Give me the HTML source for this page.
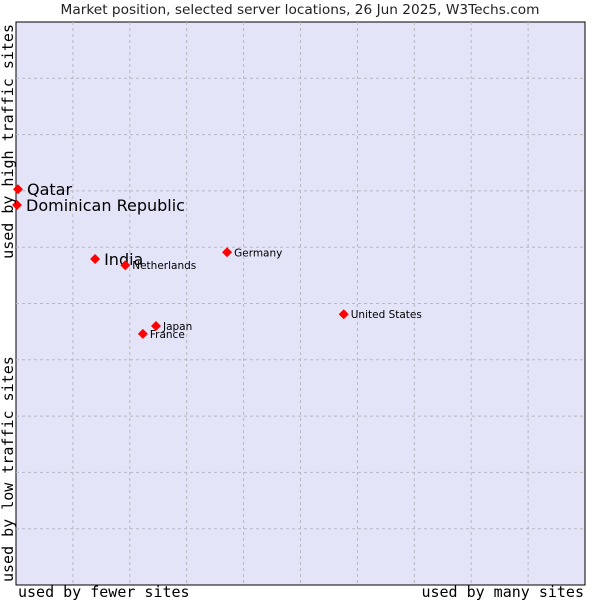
<!DOCTYPE html>
<html><head><meta charset="utf-8"><style>
body{margin:0;background:#fff;}
svg{display:block;}
</style></head><body>
<svg id="chart" width="600" height="600" xmlns="http://www.w3.org/2000/svg">
<text x="300" y="14" text-anchor="middle" font-family="DejaVu Sans, sans-serif" font-size="13.7" fill="#222">Market position, selected server locations, 26 Jun 2025, W3Techs.com</text>
<rect x="16" y="22" width="569" height="563" fill="#e3e4f8" stroke="#000" stroke-width="1"/>
<g id="grid"></g>
<g id="points"></g>
<text x="18" y="597" font-family="DejaVu Sans Mono, monospace" font-size="15" fill="#000">used by fewer sites</text>
<text x="584" y="597" text-anchor="end" font-family="DejaVu Sans Mono, monospace" font-size="15" fill="#000">used by many sites</text>
<text transform="translate(13,24) rotate(-90)" text-anchor="end" font-family="DejaVu Sans Mono, monospace" font-size="15" fill="#000">used by high traffic sites</text>
<text transform="translate(13,582) rotate(-90)" font-family="DejaVu Sans Mono, monospace" font-size="15" fill="#000">used by low traffic sites</text>
</svg>
<script>
const countries = ["Qatar","Dominican Republic","India","Netherlands","Germany","United States","Japan","France"];
const xValues = [0.35,0.18,13.9,19.2,37.1,57.6,24.6,22.3];
const yValues = [70.3,67.5,57.9,56.8,59.1,48.1,46.0,44.6];
const highlighted = [true,true,true,false,false,false,false,false];

const NS="http://www.w3.org/2000/svg";
const X0=16,X1=585,Y0=22,Y1=585;
const xs=v=>X0+v/100*(X1-X0);
const ys=v=>Y1-v/100*(Y1-Y0);
const grid=document.getElementById('grid');
for(let i=1;i<10;i++){
  const gx=xs(i*10), gy=ys(i*10);
  const l1=document.createElementNS(NS,'line');
  
  
  l1.setAttribute('x1',gx);l1.setAttribute('x2',gx);l1.setAttribute('y1',Y0);l1.setAttribute('y2',Y1);
  l1.setAttribute('stroke','#b8b8c0');l1.setAttribute('stroke-dasharray','3,3');
  grid.appendChild(l1);
  const l2=document.createElementNS(NS,'line');
  
  
  l2.setAttribute('y1',gy);l2.setAttribute('y2',gy);l2.setAttribute('x1',X0);l2.setAttribute('x2',X1);
  l2.setAttribute('stroke','#b8b8c0');l2.setAttribute('stroke-dasharray','3,3');
  grid.appendChild(l2);
}
const pts=document.getElementById('points');
countries.forEach((c,i)=>{
  const px=xs(xValues[i]), py=ys(yValues[i]);
  const d=document.createElementNS(NS,'polygon');
  
  
  d.setAttribute('points',`${px},${py-5} ${px+5},${py} ${px},${py+5} ${px-5},${py}`);
  d.setAttribute('fill','#f00');
  pts.appendChild(d);
  const t=document.createElementNS(NS,'text');
  
  
  const big=highlighted[i];
  t.setAttribute('x',px+(big?9:7));
  t.setAttribute('y',py+(big?6:4));
  t.setAttribute('font-family','DejaVu Sans, sans-serif');
  t.setAttribute('font-size',big?16:10.5);
  t.setAttribute('fill','#000');
  t.textContent=c;
  pts.appendChild(t);
});
</script>
</body></html>
